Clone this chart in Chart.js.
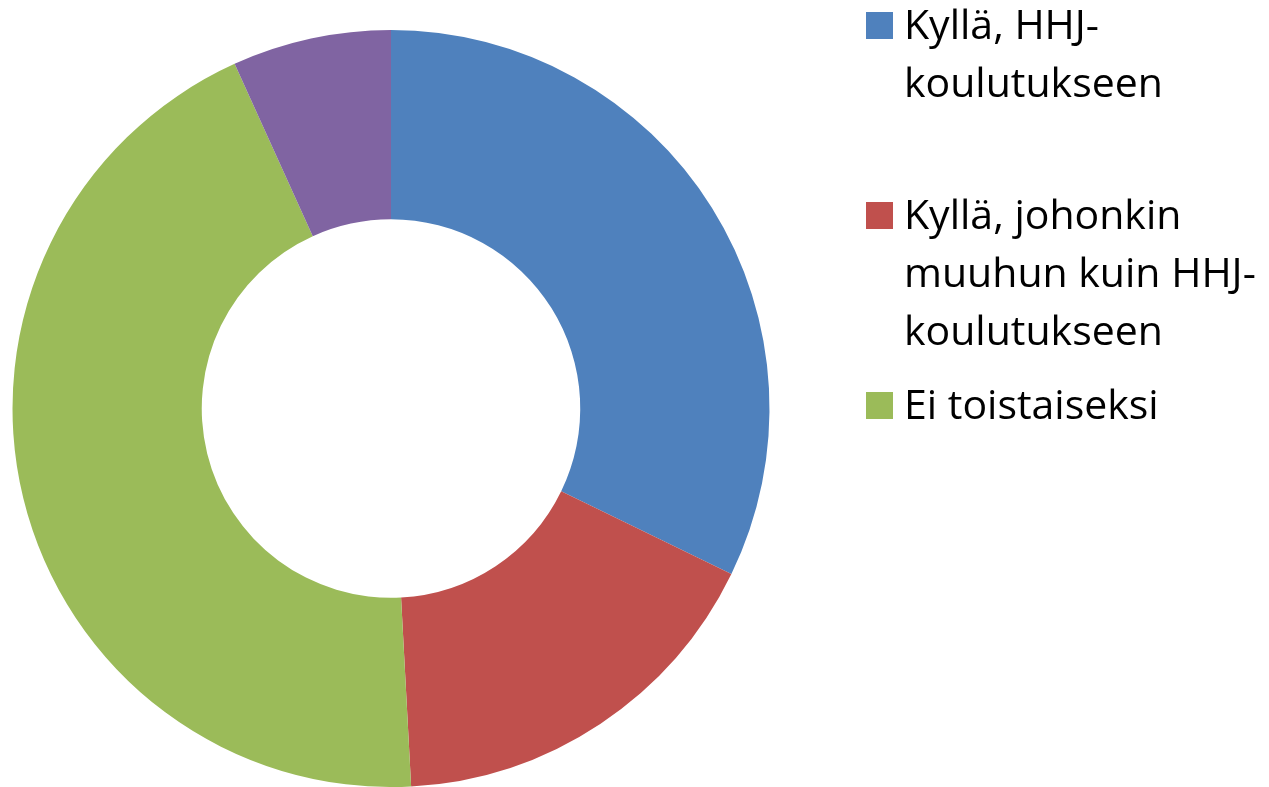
<!doctype html>
<html lang="fi">
  <head>
    <meta charset="UTF-8" />
    <title>Donitsikaavio</title>
    <script src="https://cdn.jsdelivr.net/npm/chart.js"></script>
    <style>
      html, body { margin: 0; padding: 0; background: #fff; }
    </style>
  </head>
  <body>
    <canvas id="donutChart" width="1269" height="787"></canvas>

    <script>
      // kategoriat (rivitettynä kuten selitteessä) ja vastausmäärät
      const categories = [
        ["Kyllä, HHJ-", "koulutukseen"],
        ["Kyllä, johonkin", "muuhun kuin HHJ-", "koulutukseen"],
        ["Ei toistaiseksi"],
        ["Muu"],
      ];
      const answers = [19, 10, 26, 4];
      const sliceColors = ["#4F81BD", "#C0504D", "#9BBB59", "#8064A2"];
      // kuvassa näkyy selitteestä vain kolme ensimmäistä
      const legendShown = 3;

      const sideLegend = {
        id: "sideLegend",
        afterDraw(chart) {
          const ctx = chart.ctx;
          const colors = chart.data.datasets[0].backgroundColor;
          ctx.save();
          ctx.font = '41px "Open Sans"';
          ctx.textBaseline = "alphabetic";
          chart.data.labels.slice(0, legendShown).forEach((lines, i) => {
            const top = 12 + i * 190;
            ctx.fillStyle = colors[i];
            ctx.fillRect(866, top, 27, 27);
            ctx.fillStyle = "#000";
            lines.forEach((line, j) => {
              ctx.fillText(line, 904, top + 27 + j * 58);
            });
          });
          ctx.restore();
        },
      };

      const ctx = document.getElementById("donutChart").getContext("2d");
      const donutChart = new Chart(ctx, {
        type: "doughnut",
        data: {
          labels: categories,
          datasets: [
            {
              data: answers,
              backgroundColor: sliceColors,
              borderWidth: 0,
              hoverOffset: 0,
            },
          ],
        },
        options: {
          responsive: false,
          animation: false,
          cutout: "50%",
          layout: {
            padding: { left: 12, top: 30, right: 499, bottom: 0 },
          },
          plugins: {
            legend: { display: false },
            tooltip: { enabled: false },
          },
        },
        plugins: [sideLegend],
      });
    </script>
  </body>
</html>
